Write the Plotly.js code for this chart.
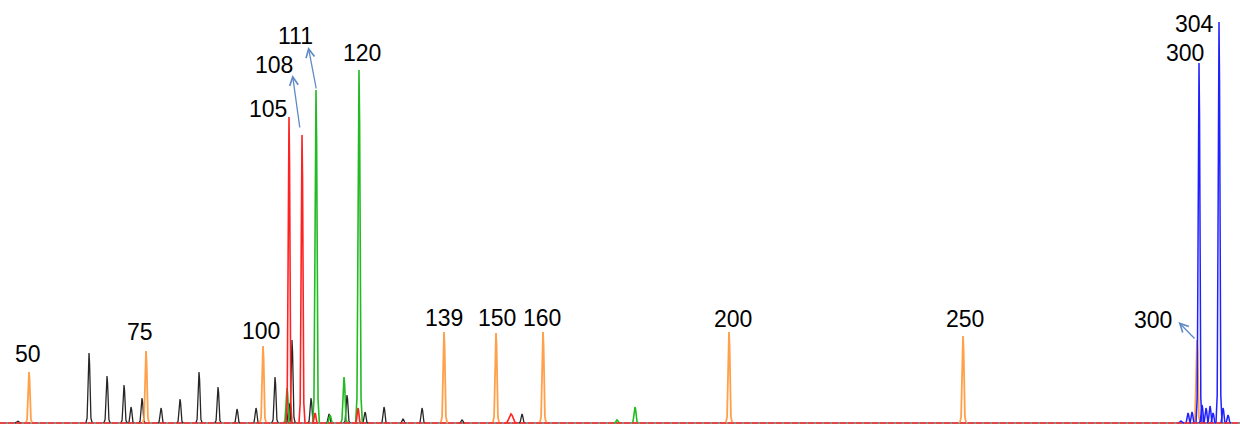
<!DOCTYPE html>
<html>
<head>
<meta charset="utf-8">
<script src="https://cdn.plot.ly/plotly-3.0.1.min.js"></script>
<style>html,body{margin:0;padding:0;background:#fff;}#chart{width:1240px;height:425px;}</style>
</head>
<body>
<div id="chart"></div>
<script>
// ---- Data (peak centre in scan units, peak height in RFU-like units) ----
const orangeX = [29, 146, 263, 444, 496, 543, 729, 963, 1197];
const orangeH = [51, 72, 77, 91, 90, 91, 91, 87, 83];
const orangeLabels = ["50", "75", "100", "139", "150", "160", "200", "250", "300"];

const redX = [289, 302, 315, 358, 511];
const redH = [306, 288, 10, 15, 9];

const greenX = [287, 316, 330, 344, 359, 617, 635];
const greenH = [35, 333, 8, 46, 353, 3, 16];

const blueX = [1181, 1188, 1192, 1199, 1202, 1206, 1210, 1213, 1219, 1223, 1228];
const blueH = [2, 10, 11, 360, 18, 15, 17, 10, 401, 15, 8];

const blackX = [18, 89, 107, 124, 131, 142, 161, 180, 199, 218, 237, 256, 275, 289, 292, 311, 329, 347, 365, 384, 403, 422, 462, 522];
const blackH = [2, 70, 47, 38, 16, 25, 15, 24, 51, 36, 14, 15, 46, 20, 83, 25, 9, 28, 11, 16, 4, 15, 3, 9];

const peakLabels = ["105", "108", "111", "120", "300", "304"];

// ---- Rendering helpers (shape template is style, not data) ----
const SHAPE = [[-1,0],[-0.6,0.07],[-0.38,0.4],[-0.18,0.85],[0,1],[0.18,0.85],[0.38,0.4],[0.6,0.07],[1,0]];
function peakTrace(xs, hs, color, halfW, lw, wideIdx) {
  const X = [], Y = [];
  xs.forEach((x, i) => {
    const w = (wideIdx && wideIdx.includes(i)) ? halfW*2.2 : halfW;
    SHAPE.forEach(p => { X.push(x + p[0]*w); Y.push(hs[i]*p[1]); });
    X.push(null); Y.push(null);
  });
  return {x: X, y: Y, type: 'scatter', mode: 'lines', hoverinfo: 'skip', connectgaps: false,
          line: {color: color, width: lw, shape: 'linear'}, showlegend: false};
}

const traces = [
  {x: [0, 1240], y: [0, 0], type: 'scatter', mode: 'lines', line: {color: '#1a1a1a', width: 1}, showlegend: false},
  peakTrace(blackX, blackH, '#262626', 3.2, 1.3),
  peakTrace(orangeX, orangeH, '#ffa04a', 3.2, 1.8),
  peakTrace(greenX, greenH, '#22bb22', 3.4, 1.6),
  peakTrace(blueX, blueH, '#2020ff', 3.0, 1.5),
  peakTrace(redX, redH, '#ff2222', 3.0, 1.6, [4]),
  {x: [0, 1240], y: [0, 0], type: 'scatter', mode: 'lines', line: {color: '#ff3030', width: 1.3, dash: '6px,2px'}, showlegend: false}
];

// ---- Annotations ----
const txtFont = {family: 'Liberation Sans, Arial, sans-serif', size: 23, color: '#000'};
const ann = [];
const orangeLabelY = [69, 91, 92, 105, 105, 105, 104, 104];
orangeLabels.forEach((t, i) => {
  if (i === 8) return;
  const dx = [-1, -6, -2, 0, 1, -1, 4, 2][i];
  ann.push({x: orangeX[i] + dx, y: orangeLabelY[i], text: t, showarrow: false, font: txtFont,
            xanchor: 'center', yanchor: 'middle'});
});
// size-standard 300 label with arrow
ann.push({x: 1153, y: 103, text: orangeLabels[8], showarrow: false, font: txtFont});
// sample peak labels
const peakLabelPos = [[268, 314], [274, 358], [295, 387], [362, 370], [1185, 370], [1194, 399]];
peakLabels.forEach((t, i) => {
  ann.push({x: peakLabelPos[i][0], y: peakLabelPos[i][1], text: t, showarrow: false, font: txtFont});
});
// arrows: head near label, tail at the peak
const arrowCol = '#5f8ac6';
const arrows = [
  {hx: 292.5, hy: 348, tx: 300, ty: 294},   // 108
  {hx: 308.3, hy: 376, tx: 316.5, ty: 333}, // 111
  {hx: 1178.5, hy: 101, tx: 1196, ty: 83}   // 300 (size std)
];
arrows.forEach(a => {
  ann.push({x: a.hx, y: a.hy, ax: a.tx, ay: a.ty, axref: 'x', ayref: 'y', xref: 'x', yref: 'y',
            text: '', showarrow: true, arrowhead: 5, arrowsize: 1.3, arrowwidth: 1.3, arrowcolor: arrowCol});
});

const layout = {
  width: 1240, height: 425,
  margin: {l: 0, r: 0, t: 0, b: 0},
  paper_bgcolor: '#ffffff', plot_bgcolor: '#ffffff',
  xaxis: {range: [0, 1240], visible: false, fixedrange: true},
  yaxis: {range: [-2, 423], visible: false, fixedrange: true},
  annotations: ann,
  showlegend: false
};

Plotly.newPlot('chart', traces, layout, {displayModeBar: false, staticPlot: true});
</script>
</body>
</html>
